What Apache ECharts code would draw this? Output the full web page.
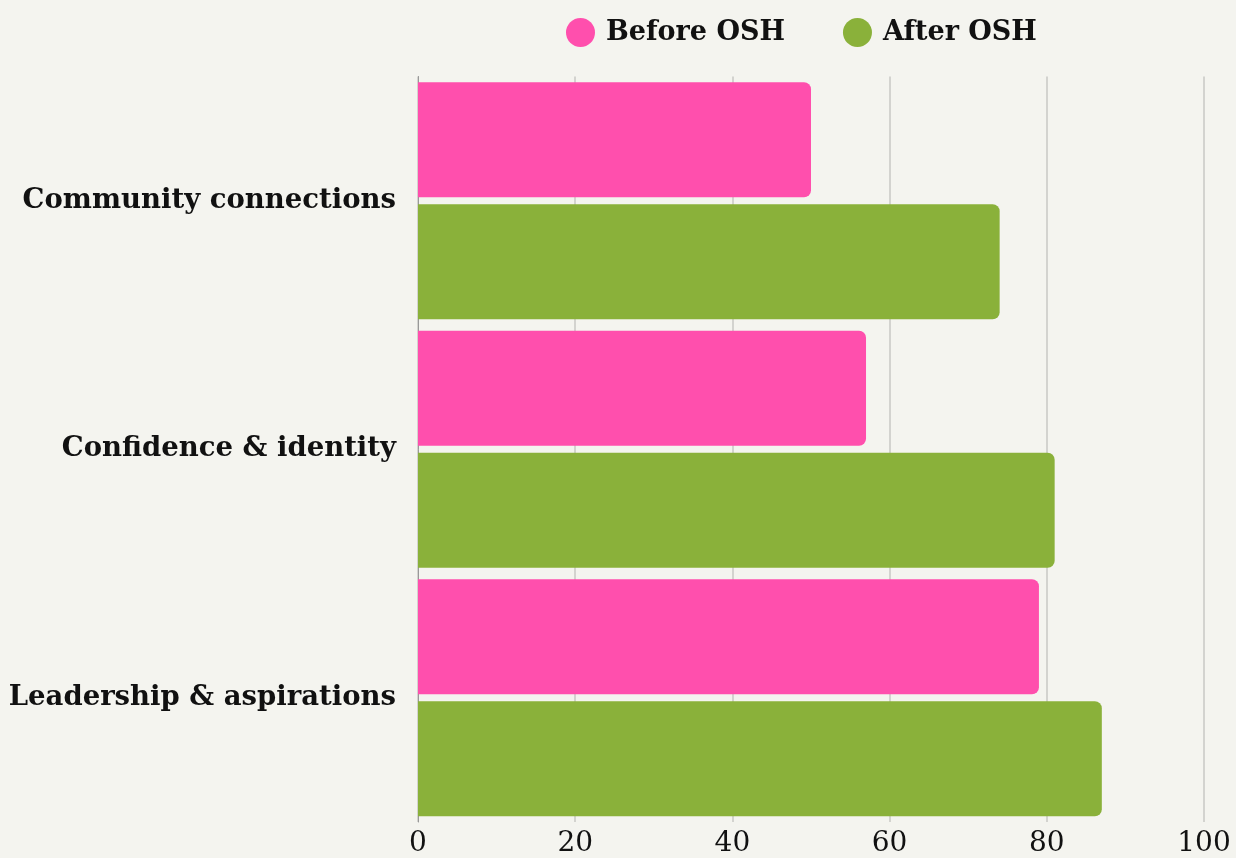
<!DOCTYPE html>
<html><head><meta charset="utf-8">
<script src="https://cdn.jsdelivr.net/npm/echarts@6/dist/echarts.min.js"></script>
<style>html,body{margin:0;padding:0;background:#F4F4EF;}#c{width:1236px;height:858px;}</style>
</head><body><div id="c"></div>
<script>
const categories = ['Community connections', 'Confidence & identity', 'Leadership & aspirations'];
const beforeOSH = [50, 57, 79];
const afterOSH = [74, 81, 87];
const xTicks = [0, 20, 40, 60, 80, 100];

const chart = echarts.init(document.getElementById('c'));
const serif = 'DejaVu Serif';
chart.setOption({
  backgroundColor: '#F4F4EF',
  animation: false,
  legend: {
    top: 13, left: 561,
    itemWidth: 29, itemHeight: 29, itemGap: 58,
    icon: 'circle',
    textStyle: {fontFamily: serif, fontWeight: 'bold', fontSize: 27, color: '#111', padding: [0,0,0,6]},
    data: ['Before OSH', 'After OSH']
  },
  grid: {left: 418, right: 32, top: 76.5, bottom: 31.5, containLabel: false},
  xAxis: {
    type: 'value', min: xTicks[0], max: xTicks[xTicks.length-1], interval: 20,
    axisLine: {show: false}, axisTick: {show: false},
    splitLine: {show: true, lineStyle: {color: '#C8C8C4', width: 1.5}},
    axisLabel: {fontFamily: serif, fontSize: 28, color: '#111', margin: 8}
  },
  yAxis: {
    type: 'category', inverse: true, data: categories,
    axisLine: {show: true, lineStyle: {color: '#999', width: 1}}, axisTick: {show: false},
    axisLabel: {fontFamily: serif, fontWeight: 'bold', fontSize: 27.5, color: '#111', margin: 22}
  },
  series: [
    {name: 'Before OSH', type: 'bar', data: beforeOSH, barWidth: 115, barGap: '6%',
     itemStyle: {color: '#FF4FAD', borderRadius: [0, 7, 7, 0]}},
    {name: 'After OSH', type: 'bar', data: afterOSH, barWidth: 115, barGap: '6%',
     itemStyle: {color: '#8AB13A', borderRadius: [0, 7, 7, 0]}}
  ]
});
</script></body></html>
